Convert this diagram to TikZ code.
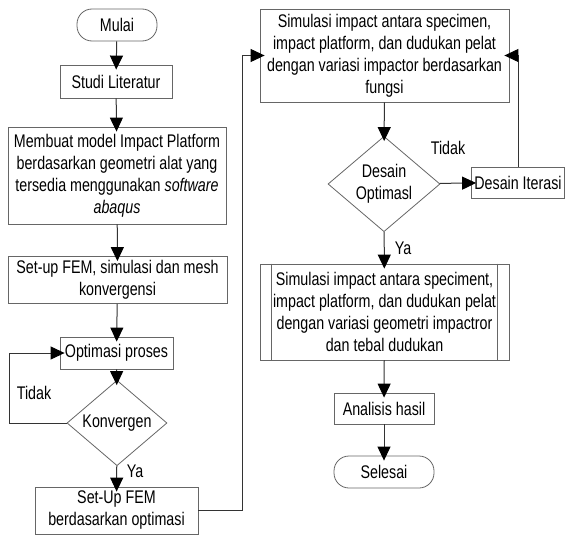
\documentclass[tikz,border=0pt]{standalone}
\usepackage{fontspec}
\setmainfont{Liberation Sans}[FakeStretch=0.78]
\usetikzlibrary{shapes.geometric,arrows.meta,calc}
\begin{document}
\begin{tikzpicture}[x=1pt,y=-1pt,
  txt/.style={font=\fontsize{18.3}{22}\selectfont, align=center},
  box/.style={txt, draw=black!60, line width=0.8pt, fill=white, inner sep=1pt},
  term/.style={box, rounded corners=15pt},
  dec/.style={txt, draw=black!60, line width=0.8pt, fill=white, shape=diamond, inner sep=0pt},
  arr/.style={-{Triangle[length=14pt,width=13pt,color=black]}, line width=1pt, draw=black!80, shorten >=-5pt},
  lbl/.style={txt, inner sep=0pt}]
\useasboundingbox (0,0) rectangle (565,535);

% left column
\node[term, minimum width=80pt, minimum height=32pt] (mulai) at (117,25) {Mulai};
\node[box, minimum width=112pt, minimum height=33pt] (studi) at (116,81.5) {Studi Literatur};
\node[box, minimum width=218pt, minimum height=97pt] (membuat) at (117,175.5)
  {Membuat model Impact Platform\\berdasarkan geometri alat yang\\tersedia menggunakan \textit{software}\\\textit{abaqus}};
\node[box, minimum width=219pt, minimum height=47pt] (setup) at (117.5,280) {Set-up FEM, simulasi dan mesh\\konvergensi};
\node[box, minimum width=113pt, minimum height=32pt] (opt) at (116.5,353) {Optimasi proses};
\node[dec, minimum width=100pt, minimum height=60pt] (kon) at (117,423) {Konvergen};
\node[box, minimum width=163pt, minimum height=47pt] (setup2) at (116.5,510.5) {Set-Up FEM\\berdasarkan optimasi};

% right column
\node[box, minimum width=249pt, minimum height=93pt] (sim1) at (384.5,55.5)
  {Simulasi impact antara specimen,\\impact platform, dan dudukan pelat\\dengan variasi impactor berdasarkan\\fungsi};
\node[dec, minimum width=112pt, minimum height=92pt] (desain) at (384,184) {Desain\\Optimasl};
\node[box, minimum width=93pt, minimum height=31pt] (iter) at (518,182.5) {Desain Iterasi};
\node[box, minimum width=249pt, minimum height=96pt] (sim2) at (384.5,312)
  {Simulasi impact antara speciment,\\impact platform, dan dudukan pelat\\dengan variasi geometri impactror\\dan tebal dudukan};
\draw[draw=black!60, line width=0.8pt] ($(sim2.north west)+(12,0)$) -- ($(sim2.south west)+(12,0)$);
\draw[draw=black!60, line width=0.8pt] ($(sim2.north east)+(-12,0)$) -- ($(sim2.south east)+(-12,0)$);
\node[box, minimum width=100pt, minimum height=31pt] (anal) at (384,408.5) {Analisis hasil};
\node[term, minimum width=100pt, minimum height=32pt] (selesai) at (384,472) {Selesai};

% labels
\node[lbl] (tidak1) at (34,393) {Tidak};
\node[lbl] (ya1) at (135,471) {Ya};
\node[lbl] (tidak2) at (448,148) {Tidak};
\node[lbl] (ya2) at (403,248) {Ya};

% connectors
\draw[arr] (mulai) -- (studi);
\draw[arr] (studi) -- (membuat);
\draw[arr] (membuat) -- (setup);
\draw[arr] (setup) -- (opt);
\draw[arr] (opt) -- (kon);
\draw[arr] (kon.west) -- ++(-57,0) |- (opt.west);
\draw[arr] (kon) -- (setup2);
\draw[arr] (setup2.east) -- ++(44,0) |- (sim1.west);
\draw[arr] (sim1) -- (desain);
\draw[arr] (desain) -- (iter);
\draw[arr] (iter.north) |- (sim1.east);
\draw[arr] (desain) -- (sim2);
\draw[arr] (sim2) -- (anal);
\draw[arr] (anal) -- (selesai);
\end{tikzpicture}
\end{document}
